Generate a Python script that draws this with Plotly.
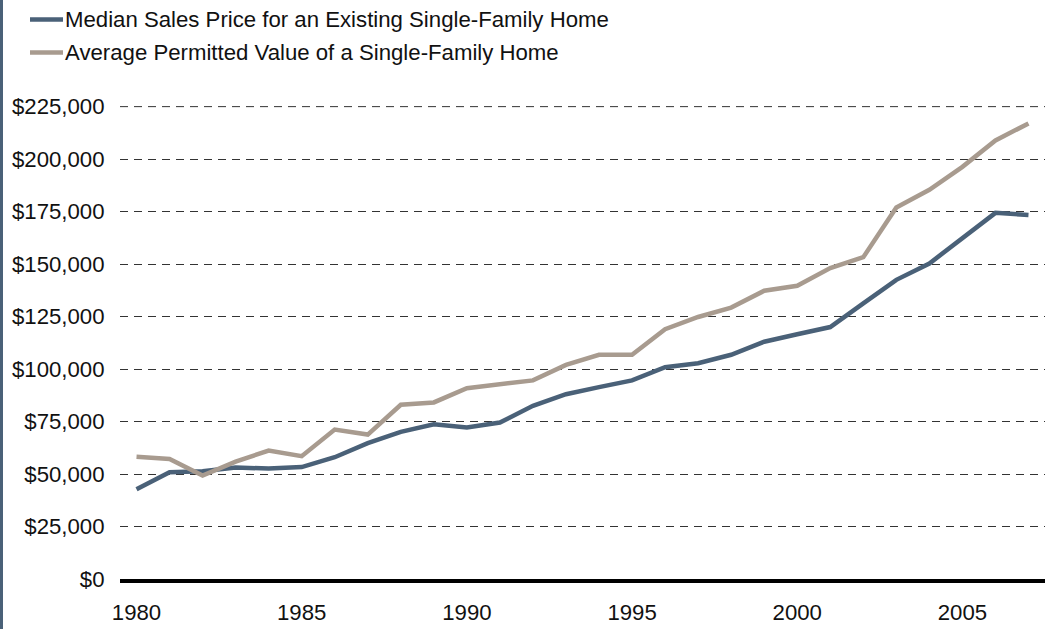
import plotly.graph_objects as go

years = list(range(1980, 2008))
median_sales = [42800, 50900, 51300, 53100, 52600, 53300, 58000, 64700, 70100, 73700,
                72200, 74500, 82500, 88000, 91400, 94600, 100900, 102800, 106800, 113000,
                116600, 120000, 131300, 142500, 150300, 162400, 174400, 173400]
avg_permitted = [58200, 57200, 49300, 55900, 61200, 58500, 71200, 68800, 83000, 84100,
                 90900, 93000, 94600, 102000, 106800, 106800, 119000, 124800, 129300, 137300,
                 139700, 148100, 153300, 177000, 185400, 196300, 208900, 217000]
series_names = ["Median Sales Price for an Existing Single-Family Home",
                "Average Permitted Value of a Single-Family Home"]
x_ticks = [1980, 1985, 1990, 1995, 2000, 2005]
y_ticks = [0, 25000, 50000, 75000, 100000, 125000, 150000, 175000, 200000, 225000]
y_tick_labels = ["$" + format(v, ",") for v in y_ticks]

BLUE = "#4A6178"
GREY = "#A89B8F"
FONT = "Liberation Sans, Arial, sans-serif"
FS = 22.2
colors = [BLUE, GREY]

# plot area geometry (px)
L, R, T, B = 120, 6, 106, 50
PW, PH = 1051 - L - R, 629 - T - B

fig = go.Figure()
for name, vals, col in zip(series_names, [median_sales, avg_permitted], colors):
    fig.add_trace(go.Scatter(x=years, y=vals, mode="lines", name=name,
                             line=dict(color=col, width=4.5), showlegend=False,
                             hoverinfo="skip"))

shapes = [dict(type="line", xref="paper", yref="paper",
               x0=-(L - 1.5) / PW, x1=-(L - 1.5) / PW, y0=-B / PH, y1=1 + T / PH,
               line=dict(color=BLUE, width=3)),
          # top gridline (plotly omits gridlines at the very edge)
          dict(type="line", xref="paper", yref="y", x0=0, x1=1,
               y0=y_ticks[-1], y1=y_ticks[-1], layer="below",
               line=dict(color="#333333", width=1, dash="8px,6px"))]
annotations = []
legend_rows_y = [19.5, 52.5]
for name, col, ry in zip(series_names, colors, legend_rows_y):
    yp = 1 + (T - ry) / PH
    shapes.append(dict(type="line", xref="paper", yref="paper",
                       x0=(30 - L) / PW, x1=(63 - L) / PW, y0=yp, y1=yp,
                       line=dict(color=col, width=4.5)))
    annotations.append(dict(text=name, xref="paper", yref="paper", x=(63 - L) / PW, y=yp,
                            xanchor="left", yanchor="middle", showarrow=False,
                            font=dict(size=FS, family=FONT, color="#111111")))

fig.update_layout(
    width=1051, height=629,
    margin=dict(l=L, r=R, t=T, b=B, autoexpand=False),
    paper_bgcolor="white", plot_bgcolor="white",
    font=dict(family=FONT, size=FS, color="#111111"),
    showlegend=False,
    xaxis=dict(range=[1979.5, 2007.5], tickvals=x_ticks, showgrid=False, zeroline=False,
               showline=True, linecolor="black", linewidth=4,
               ticks="outside", ticklen=10, tickcolor="rgba(0,0,0,0)",
               tickfont=dict(size=FS, family=FONT, color="#111111")),
    yaxis=dict(range=[0, 225300], tickmode="array", tickvals=y_ticks, ticktext=y_tick_labels,
               showgrid=True, gridcolor="#333333", gridwidth=1, griddash="8px,6px",
               zeroline=False, showline=False,
               ticks="outside", ticklen=10, tickcolor="rgba(0,0,0,0)",
               tickfont=dict(size=FS, family=FONT, color="#111111")),
    shapes=shapes,
    annotations=annotations,
)

fig.write_html("out.html", config={"displayModeBar": False},
               post_script="document.body.style.margin='0';document.body.style.padding='0';"
                           "document.body.style.overflow='hidden';")
